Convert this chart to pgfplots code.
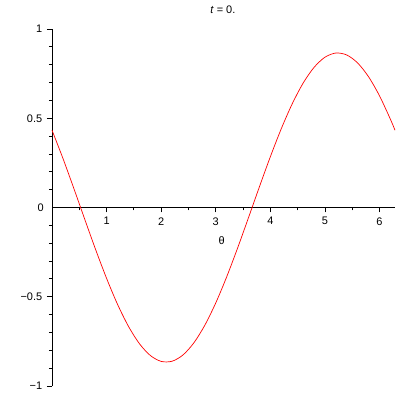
\documentclass[border=0pt]{standalone}
\usepackage{fontspec}
\setmainfont{Liberation Sans}
\usepackage{pgfplots}
\pgfplotsset{compat=1.18}
\begin{document}
\fontsize{11}{13}\selectfont
\begin{tikzpicture}
\path[use as bounding box] (0,0) rectangle (400bp,400bp);
\begin{axis}[
  at={(52bp,14bp)}, anchor=south west,
  scale only axis, width=343bp, height=357bp,
  xmin=0, xmax=6.2832, ymin=-1, ymax=1,
  axis lines=middle,
  axis line style={black, line width=0.8bp, -},
  tick align=outside,
  major tick length=5bp, minor tick length=3bp,
  tick style={black, line width=0.8bp},
  xtick={1,2,3,4,5,6},
  minor xtick={0.5,1.5,2.5,3.5,4.5,5.5},
  ytick={-1,-0.5,0,0.5,1},
  yticklabels={−1,−0.5,0,0.5,1},
  minor ytick={-0.9,-0.8,-0.7,-0.6,-0.4,-0.3,-0.2,-0.1,0.1,0.2,0.3,0.4,0.6,0.7,0.8,0.9},
  /pgf/number format/assume math mode=true,
  ticklabel style={font=\fontsize{11}{13}\selectfont},
  xticklabel style={yshift=-1bp},
  yticklabel style={xshift=-1bp},
  clip=false,
]
\addplot[red, line width=0.7bp, smooth] coordinates {
(0,0.433) (0.2,0.2754) (0.4,0.1068) (0.6,-0.0661) (0.8,-0.2364) (1.0,-0.3971)
(1.2,-0.5421) (1.4,-0.6654) (1.6,-0.7623) (1.8,-0.8288) (2.0,-0.8621) (2.2,-0.8612)
(2.4,-0.8259) (2.6,-0.7577) (2.8,-0.6592) (3.0,-0.5345) (3.2,-0.3885) (3.4,-0.2270)
(3.6,-0.0564) (3.8,0.1164) (4.0,0.2846) (4.2,0.4414) (4.4,0.5806) (4.6,0.6967)
(4.8,0.7849) (5.0,0.8419) (5.2,0.8654) (5.4,0.8544) (5.6,0.8093) (5.8,0.7319)
(6.0,0.6253) (6.2,0.4938) (6.2832,0.433)
};
\node[font=\fontsize{11}{13}\selectfont, anchor=east, inner sep=0pt] at ([xshift=-8bp]axis cs:0,0) {0};
\node[font=\fontsize{11}{13}\selectfont] at (axis cs:3.11,-0.185) {θ};
\node[font=\fontsize{11}{13}\selectfont] at (axis cs:3.13,1.11) {\textit{t} = 0.};
\end{axis}
\end{tikzpicture}
\end{document}
